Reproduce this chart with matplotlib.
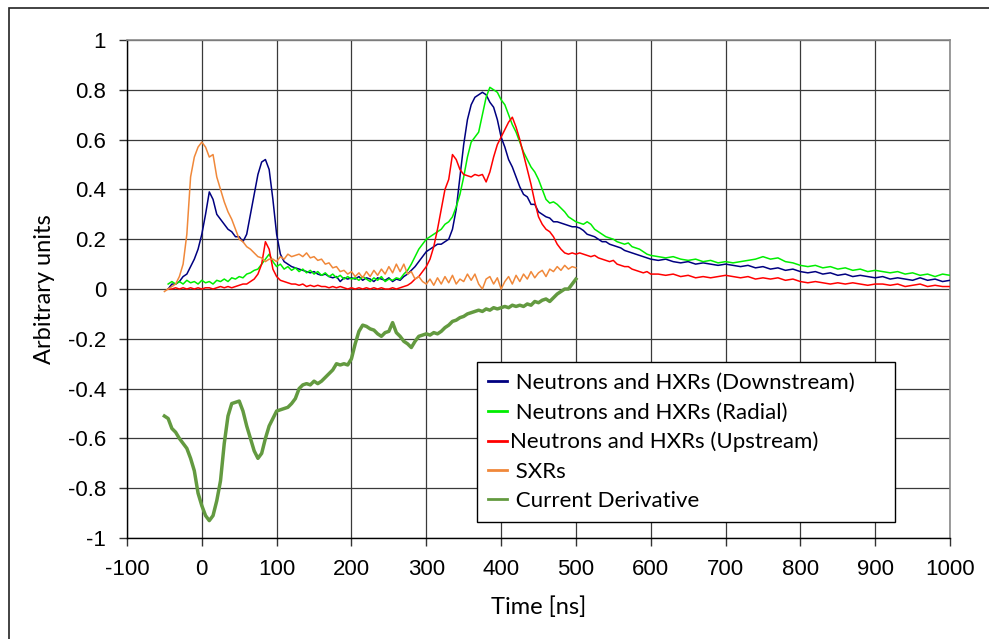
import matplotlib
matplotlib.use("Agg")
import matplotlib.pyplot as plt
from matplotlib.patches import Rectangle
from matplotlib.ticker import FuncFormatter

############## DATA #################
# time grids [ns]
t_main = [-45, -40, -35, -30, -25, -20, -15, -10, -5, 0, 5, 10, 15, 20, 25, 30, 35, 40, 45, 50,
          55, 60, 65, 70, 75, 80, 85, 90, 95, 100, 105, 110, 115, 120, 125, 130, 135, 140, 145, 150,
          155, 160, 165, 170, 175, 180, 185, 190, 195, 200, 205, 210, 215, 220, 225, 230, 235, 240, 245, 250,
          255, 260, 265, 270, 275, 280, 285, 290, 295, 300, 305, 310, 315, 320, 325, 330, 335, 340, 345, 350,
          355, 360, 365, 370, 375, 380, 385, 390, 395, 400, 405, 410, 415, 420, 425, 430, 435, 440, 445, 450,
          455, 460, 465, 470, 475, 480, 485, 490, 495, 500, 505, 510, 515, 520, 525, 530, 535, 540, 545, 550,
          555, 560, 565, 570, 575, 580, 585, 590, 595, 600,
          610, 620, 630, 640, 650, 660, 670, 680, 690, 700, 710, 720, 730, 740, 750, 760, 770, 780, 790, 800,
          810, 820, 830, 840, 850, 860, 870, 880, 890, 900, 910, 920, 930, 940, 950, 960, 970, 980, 990, 1000]

t_early = [-50, -45, -40, -35, -30, -25, -20, -15, -10, -5, 0, 5, 10, 15, 20, 25, 30, 35, 40, 45,
           50, 55, 60, 65, 70, 75, 80, 85, 90, 95, 100, 105, 110, 115, 120, 125, 130, 135, 140, 145,
           150, 155, 160, 165, 170, 175, 180, 185, 190, 195, 200, 205, 210, 215, 220, 225, 230, 235, 240, 245,
           250, 255, 260, 265, 270, 275, 280, 285, 290, 295, 300, 305, 310, 315, 320, 325, 330, 335, 340, 345,
           350, 355, 360, 365, 370, 375, 380, 385, 390, 395, 400, 405, 410, 415, 420, 425, 430, 435, 440, 445,
           450, 455, 460, 465, 470, 475, 480, 485, 490, 495, 500]

downstream = [0.00, 0.02, 0.02, 0.03, 0.05, 0.06, 0.09, 0.12, 0.16, 0.22, 0.30, 0.39, 0.36, 0.30, 0.28, 0.26, 0.24, 0.23, 0.21, 0.21,
              0.19, 0.22, 0.30, 0.38, 0.46, 0.51, 0.52, 0.48, 0.36, 0.22, 0.14, 0.11, 0.10, 0.09, 0.085, 0.08, 0.075, 0.07, 0.065, 0.07,
              0.06, 0.055, 0.06, 0.05, 0.045, 0.05, 0.03, 0.045, 0.04, 0.045, 0.04, 0.05, 0.035, 0.045, 0.04, 0.03, 0.045, 0.04, 0.035, 0.045,
              0.03, 0.04, 0.035, 0.05, 0.06, 0.075, 0.09, 0.11, 0.13, 0.15, 0.16, 0.17, 0.18, 0.18, 0.19, 0.20, 0.24, 0.32, 0.45, 0.58,
              0.68, 0.74, 0.77, 0.78, 0.79, 0.78, 0.75, 0.73, 0.68, 0.61, 0.57, 0.52, 0.49, 0.45, 0.41, 0.38, 0.37, 0.34, 0.34, 0.31,
              0.30, 0.29, 0.285, 0.27, 0.27, 0.265, 0.26, 0.255, 0.25, 0.25, 0.245, 0.235, 0.22, 0.215, 0.21, 0.20, 0.19, 0.19, 0.18, 0.175,
              0.17, 0.165, 0.155, 0.15, 0.145, 0.14, 0.135, 0.13, 0.125, 0.12,
              0.115, 0.12, 0.11, 0.105, 0.11, 0.10, 0.105, 0.10, 0.095, 0.10, 0.095, 0.09, 0.095, 0.085, 0.09, 0.08, 0.085, 0.075, 0.08, 0.07,
              0.065, 0.07, 0.06, 0.065, 0.055, 0.06, 0.05, 0.055, 0.05, 0.045, 0.05, 0.04, 0.045, 0.04, 0.035, 0.045, 0.035, 0.04, 0.03, 0.035]

radial = [0.02, 0.03, 0.02, 0.03, 0.02, 0.035, 0.025, 0.03, 0.02, 0.035, 0.025, 0.03, 0.02, 0.035, 0.03, 0.04, 0.03, 0.045, 0.04, 0.05,
          0.045, 0.06, 0.065, 0.075, 0.08, 0.10, 0.12, 0.14, 0.11, 0.09, 0.10, 0.08, 0.09, 0.075, 0.085, 0.07, 0.08, 0.065, 0.075, 0.06,
          0.07, 0.055, 0.065, 0.05, 0.06, 0.045, 0.055, 0.04, 0.05, 0.04, 0.045, 0.035, 0.05, 0.04, 0.03, 0.045, 0.035, 0.05, 0.03, 0.04,
          0.035, 0.045, 0.04, 0.06, 0.075, 0.10, 0.13, 0.16, 0.18, 0.20, 0.21, 0.22, 0.23, 0.24, 0.26, 0.27, 0.29, 0.33, 0.38, 0.45,
          0.53, 0.59, 0.61, 0.63, 0.70, 0.77, 0.81, 0.80, 0.79, 0.76, 0.74, 0.70, 0.66, 0.63, 0.59, 0.55, 0.52, 0.49, 0.47, 0.44,
          0.40, 0.36, 0.345, 0.35, 0.34, 0.325, 0.31, 0.29, 0.28, 0.27, 0.265, 0.26, 0.27, 0.26, 0.24, 0.23, 0.22, 0.21, 0.205, 0.20,
          0.19, 0.185, 0.18, 0.185, 0.17, 0.165, 0.16, 0.15, 0.14, 0.135,
          0.13, 0.125, 0.13, 0.12, 0.115, 0.12, 0.11, 0.115, 0.105, 0.11, 0.105, 0.11, 0.115, 0.12, 0.13, 0.12, 0.125, 0.11, 0.105, 0.095,
          0.09, 0.095, 0.085, 0.09, 0.08, 0.085, 0.075, 0.08, 0.07, 0.075, 0.07, 0.065, 0.07, 0.06, 0.065, 0.055, 0.06, 0.05, 0.06, 0.055]

upstream = [0.0, 0.0, 0.005, 0.0, 0.005, 0.0, 0.005, 0.0, 0.005, 0.0, 0.005, 0.005, 0.0, 0.005, 0.01, 0.005, 0.01, 0.005, 0.01, 0.015,
            0.02, 0.02, 0.03, 0.04, 0.06, 0.10, 0.19, 0.16, 0.08, 0.05, 0.035, 0.03, 0.025, 0.02, 0.02, 0.015, 0.02, 0.01, 0.015, 0.01,
            0.015, 0.01, 0.01, 0.005, 0.01, 0.005, 0.01, 0.005, 0.0, 0.005, 0.0, 0.005, 0.0, 0.005, 0.0, 0.005, 0.0, 0.005, 0.0, 0.0,
            0.005, 0.0, 0.005, 0.01, 0.015, 0.025, 0.04, 0.05, 0.07, 0.09, 0.12, 0.17, 0.24, 0.32, 0.40, 0.44, 0.54, 0.52, 0.48, 0.46,
            0.455, 0.45, 0.46, 0.455, 0.46, 0.43, 0.47, 0.53, 0.58, 0.61, 0.64, 0.67, 0.69, 0.65, 0.60, 0.54, 0.48, 0.42, 0.35, 0.29,
            0.26, 0.24, 0.23, 0.21, 0.18, 0.16, 0.145, 0.14, 0.145, 0.14, 0.145, 0.14, 0.135, 0.13, 0.135, 0.125, 0.12, 0.115, 0.11, 0.115,
            0.10, 0.095, 0.09, 0.09, 0.08, 0.075, 0.07, 0.065, 0.07, 0.06,
            0.06, 0.055, 0.06, 0.05, 0.055, 0.045, 0.05, 0.045, 0.05, 0.055, 0.05, 0.045, 0.05, 0.04, 0.045, 0.04, 0.045, 0.035, 0.04, 0.03,
            0.025, 0.03, 0.025, 0.02, 0.025, 0.02, 0.025, 0.02, 0.015, 0.02, 0.02, 0.015, 0.02, 0.01, 0.015, 0.02, 0.01, 0.015, 0.01, 0.01]

sxr = [-0.01, 0.0, 0.01, 0.02, 0.05, 0.10, 0.22, 0.45, 0.53, 0.57, 0.59, 0.57, 0.53, 0.54, 0.45, 0.40, 0.35, 0.31, 0.28, 0.24,
       0.20, 0.19, 0.17, 0.16, 0.145, 0.13, 0.125, 0.11, 0.12, 0.12, 0.11, 0.13, 0.12, 0.14, 0.13, 0.135, 0.14, 0.13, 0.145, 0.125,
       0.13, 0.115, 0.12, 0.10, 0.105, 0.085, 0.09, 0.07, 0.075, 0.06, 0.07, 0.05, 0.065, 0.045, 0.07, 0.05, 0.075, 0.055, 0.08, 0.06,
       0.09, 0.065, 0.10, 0.07, 0.10, 0.06, 0.07, 0.04, 0.05, 0.03, 0.02, 0.04, 0.015, 0.045, 0.02, 0.05, 0.025, 0.055, 0.02, 0.04,
       0.03, 0.06, 0.035, 0.06, 0.02, 0.0, 0.04, 0.05, 0.02, 0.045, 0.0, 0.03, 0.05, 0.02, 0.055, 0.03, 0.06, 0.04, 0.07, 0.045,
       0.065, 0.075, 0.05, 0.08, 0.07, 0.09, 0.075, 0.095, 0.08, 0.09, 0.085]

current_deriv = [-0.51, -0.52, -0.56, -0.575, -0.60, -0.62, -0.64, -0.68, -0.73, -0.82, -0.87, -0.91, -0.93, -0.91, -0.85, -0.77, -0.62, -0.51, -0.46, -0.455,
                 -0.45, -0.49, -0.55, -0.60, -0.65, -0.68, -0.66, -0.60, -0.55, -0.52, -0.49, -0.485, -0.48, -0.475, -0.46, -0.44, -0.40, -0.385, -0.38, -0.385,
                 -0.37, -0.38, -0.37, -0.355, -0.34, -0.325, -0.30, -0.305, -0.30, -0.305, -0.28, -0.22, -0.17, -0.145, -0.15, -0.16, -0.165, -0.18, -0.19, -0.175,
                 -0.17, -0.135, -0.175, -0.19, -0.21, -0.22, -0.235, -0.21, -0.19, -0.185, -0.18, -0.185, -0.175, -0.18, -0.17, -0.155, -0.145, -0.13, -0.125, -0.115,
                 -0.11, -0.10, -0.095, -0.09, -0.085, -0.09, -0.08, -0.085, -0.075, -0.08, -0.075, -0.07, -0.075, -0.065, -0.07, -0.065, -0.07, -0.06, -0.065, -0.05,
                 -0.055, -0.045, -0.04, -0.05, -0.035, -0.02, -0.01, 0.0, 0.0, 0.02, 0.04]

x_ticks = [-100, 0, 100, 200, 300, 400, 500, 600, 700, 800, 900, 1000]
y_ticks = [-1, -0.8, -0.6, -0.4, -0.2, 0, 0.2, 0.4, 0.6, 0.8, 1]

############## PLOT #################
TEXT_FONT = "Lato"
TICK_FONT = "Liberation Sans"

fig = plt.figure(figsize=(9.89, 6.39), dpi=100)
ax = fig.add_axes([0.1284, 0.158, 0.8322, 0.7794])

ax.plot(t_main, downstream, color="#000080", lw=1.1, label=" Neutrons and HXRs (Downstream)", zorder=3)
ax.plot(t_main, radial, color="#00ee00", lw=1.1, label=" Neutrons and HXRs (Radial)", zorder=3)
ax.plot(t_main, upstream, color="#ff0000", lw=1.1, label="Neutrons and HXRs (Upstream)", zorder=3)
ax.plot(t_early, sxr, color="#f0883a", lw=1.1, label=" SXRs", zorder=3)
ax.plot(t_early, current_deriv, color="#639a40", lw=2.5, label=" Current Derivative", zorder=3)

ax.set_xlim(-100, 1000)
ax.set_ylim(-1, 1)
ax.set_xticks(x_ticks)
ax.set_yticks(y_ticks)
fmt = FuncFormatter(lambda v, p: ("%g" % v).replace("\u2212", "-"))
ax.xaxis.set_major_formatter(fmt)
ax.yaxis.set_major_formatter(fmt)
ax.tick_params(axis="both", direction="out", length=6, width=1, color="#333333",
               labelsize=16, pad=9)
for lab in ax.get_xticklabels() + ax.get_yticklabels():
    lab.set_fontfamily(TICK_FONT)

ax.grid(True, color="#3a3a3a", lw=0.9, zorder=1)
ax.set_axisbelow(True)
for side in ["left", "bottom"]:
    ax.spines[side].set_color("black")
    ax.spines[side].set_linewidth(1)
for side in ["top", "right"]:
    ax.spines[side].set_color("#8a8a8a")
    ax.spines[side].set_linewidth(1.2)

ax.set_xlabel("Time [ns]", fontsize=17, family=TEXT_FONT, labelpad=12)
ax.set_ylabel("Arbitrary units", fontsize=17, family=TEXT_FONT, labelpad=9)

leg = ax.legend(loc="lower left", bbox_to_anchor=(0.4253, 0.032, 0.5079, 0.3), mode="expand",
                borderaxespad=0, prop={"family": TEXT_FONT, "size": 16}, frameon=True, fancybox=False,
                edgecolor="black", framealpha=1, handlelength=0.85, handletextpad=0.15,
                labelspacing=0.42, borderpad=0.5)
leg.get_frame().set_linewidth(1.0)
for line in leg.get_lines():
    line.set_linewidth(2.0)
leg.set_zorder(5)

# outer chart border
fig.patches.append(Rectangle((9 / 989, -0.05), 1.2, 1 - 8 / 639 + 0.05, transform=fig.transFigure,
                             fill=False, edgecolor="#222222", lw=1.2))

fig.savefig("out.png", dpi=100)
